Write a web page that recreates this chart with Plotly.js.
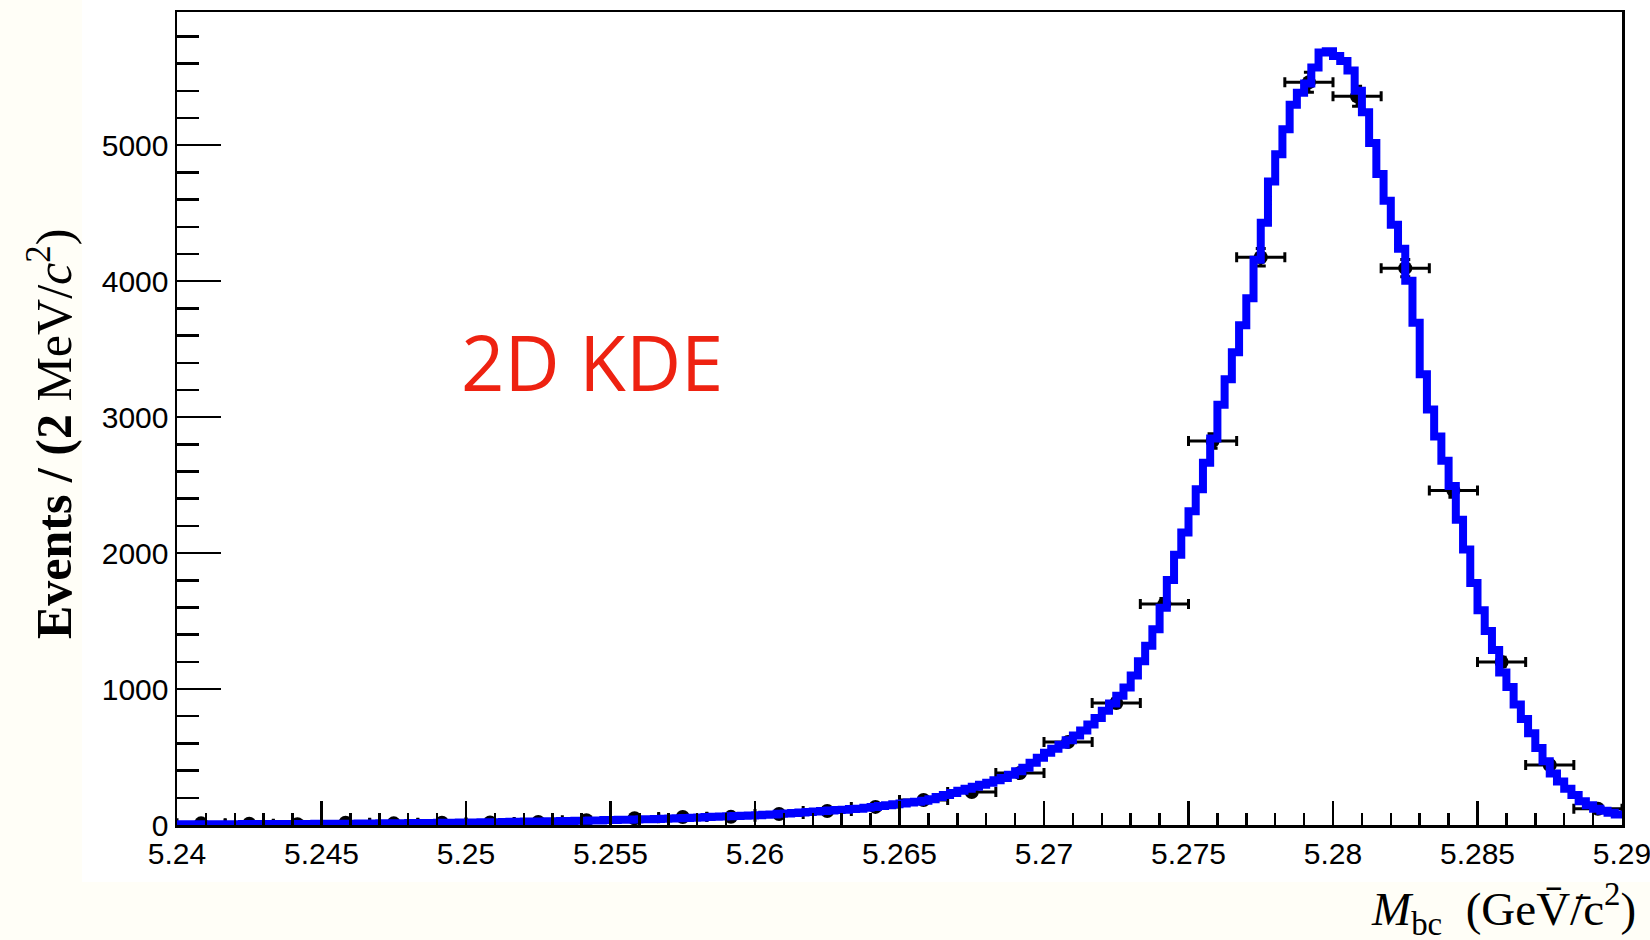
<!DOCTYPE html>
<html>
<head>
<meta charset="utf-8">
<script src="https://cdn.plot.ly/plotly-3.0.1.min.js"></script>
<style>
  html, body { margin: 0; padding: 0; background: #fffef7; }
  #plot { width: 1650px; height: 940px; }
</style>
</head>
<body>
<div id="plot"></div>
<script>
// binning of the two histograms
const xMin = 5.24;
const xMax = 5.29;
const yMax = 5980;

// data points: 30 bins, events per bin
const dataCounts = [
  12, 9, 6, 16, 12, 17, 18, 22, 35, 50,
  59, 60, 81, 103, 133, 184, 243, 382, 610, 897,
  1625, 2824, 4176, 5463, 5360, 4096, 2460, 1199, 441, 120
];

// 2D KDE projection: 200 fine bins
const kdeCounts = [
  5, 5, 5, 5, 5, 6, 6, 6, 6, 7,
  7, 7, 7, 7, 7, 8, 8, 8, 8, 9,
  9, 9, 10, 10, 10, 11, 11, 11, 12, 12,
  13, 13, 14, 14, 15, 15, 16, 16, 17, 18,
  18, 19, 20, 20, 21, 22, 23, 24, 25, 25,
  26, 27, 28, 29, 30, 31, 32, 33, 34, 36,
  37, 38, 39, 41, 42, 43, 45, 46, 48, 50,
  52, 54, 56, 58, 60, 62, 64, 66, 68, 70,
  72, 75, 78, 82, 85, 89, 92, 96, 99, 103,
  106, 110, 113, 117, 120, 126, 132, 139, 145, 152,
  158, 165, 171, 178, 190, 206, 221, 236, 252, 267,
  282, 296, 311, 329, 346, 369, 396, 422, 458, 495,
  531, 560, 590, 624, 658, 696, 739, 787, 841, 894,
  950, 1012, 1100, 1204, 1319, 1439, 1598, 1802, 1988, 2152,
  2307, 2469, 2664, 2842, 3091, 3278, 3477, 3675, 3875, 4157,
  4430, 4733, 4933, 5118, 5298, 5386, 5454, 5572, 5683, 5692,
  5657, 5620, 5549, 5400, 5243, 5016, 4788, 4591, 4415, 4238,
  4003, 3695, 3316, 3057, 2857, 2680, 2493, 2245, 2027, 1780,
  1580, 1427, 1288, 1122, 1015, 887, 779, 674, 567, 468,
  378, 320, 267, 221, 175, 145, 120, 104, 91, 77
];

const xTickLabels = ['5.24', '5.245', '5.25', '5.255', '5.26', '5.265', '5.27', '5.275', '5.28', '5.285', '5.29'];
const yTickLabels = ['0', '1000', '2000', '3000', '4000', '5000'];

function plot() {
  const wData = (xMax - xMin) / dataCounts.length;
  const wKde = (xMax - xMin) / kdeCounts.length;

  const dataX = dataCounts.map((v, i) => xMin + (i + 0.5) * wData);
  // step line: left edges, plus closing right edge
  const kdeX = kdeCounts.map((v, i) => xMin + i * wKde);
  kdeX.push(xMax);
  const kdeY = kdeCounts.slice();
  kdeY.push(kdeCounts[kdeCounts.length - 1]);

  const data = [
    {
      x: dataX,
      y: dataCounts,
      type: 'scatter',
      mode: 'markers',
      marker: { color: 'black', size: 14 },
      error_x: { type: 'constant', value: wData / 2, color: 'black', thickness: 3, width: 5 },
      error_y: { type: 'data', array: dataCounts.map(v => Math.sqrt(v)), color: 'black', thickness: 3, width: 5 },
      showlegend: false
    },
    {
      x: kdeX,
      y: kdeY,
      type: 'scatter',
      mode: 'lines',
      line: { color: '#0000ff', width: 8, shape: 'hv' },
      showlegend: false
    }
  ];

  const tickFont = { family: 'Liberation Sans, Arial, sans-serif', size: 30, color: 'black' };

  const layout = {
    width: 1650,
    height: 940,
    margin: { l: 177, r: 28, t: 12, b: 115, pad: 0 },
    paper_bgcolor: '#fffef7',
    plot_bgcolor: 'white',
    showlegend: false,
    xaxis: {
      range: [xMin, xMax + 1e-7],
      tickmode: 'array',
      tickvals: xTickLabels.map(parseFloat),
      ticktext: xTickLabels,
      ticklabeloverflow: 'allow',
      ticks: 'inside',
      ticklen: 24,
      tickwidth: 2.5,
      tickcolor: 'black',
      minor: { ticks: 'inside', ticklen: 12, dtick: 0.001, tick0: xMin, tickwidth: 2.5, tickcolor: 'black' },
      showline: true,
      linewidth: 2.5,
      linecolor: 'black',
      mirror: true,
      showgrid: false,
      zeroline: false,
      tickfont: tickFont
    },
    yaxis: {
      range: [0, yMax],
      tickmode: 'array',
      tickvals: yTickLabels.map(Number),
      ticktext: yTickLabels,
      ticks: 'inside',
      ticklen: 44,
      tickwidth: 2.5,
      tickcolor: 'black',
      minor: { ticks: 'inside', ticklen: 22, dtick: 200, tick0: 0, tickwidth: 2.5, tickcolor: 'black' },
      showline: true,
      linewidth: 2.5,
      linecolor: 'black',
      mirror: true,
      showgrid: false,
      zeroline: false,
      tickfont: tickFont
    },
    shapes: [
      {
        type: 'rect', xref: 'paper', yref: 'paper', layer: 'below',
        x0: -0.0657, x1: 1.03, y0: -0.0701, y1: 1.03,
        fillcolor: 'white', line: { width: 0 }
      }
    ],
    annotations: [
      {
        xref: 'paper', yref: 'paper', x: 1.011, y: -0.103,
        xanchor: 'right', yanchor: 'middle', showarrow: false,
        text: '<i>M</i><sub>bc</sub>  (GeV\u0304/\u0304c<sup>2</sup>)',
        font: { family: 'Liberation Serif, Times New Roman, serif', size: 47, color: 'black' }
      },
      {
        xref: 'paper', yref: 'paper', x: -0.0879, y: 0.482,
        xanchor: 'center', yanchor: 'middle', showarrow: false, textangle: -90,
        text: '<b>Events / (2</b> MeV/<i>c</i><sup>2</sup>)',
        font: { family: 'Liberation Serif, Times New Roman, serif', size: 50, color: 'black' }
      },
      {
        xref: 'paper', yref: 'paper', x: 0.287, y: 0.5707,
        xanchor: 'center', yanchor: 'middle', showarrow: false,
        text: '2D KDE',
        font: { family: 'Open Sans, sans-serif', size: 76, color: '#ee2211', weight: 500 }
      }
    ]
  };

  Plotly.newPlot('plot', data, layout, { displayModeBar: false, staticPlot: true });
}

plot();
</script>
</body>
</html>
